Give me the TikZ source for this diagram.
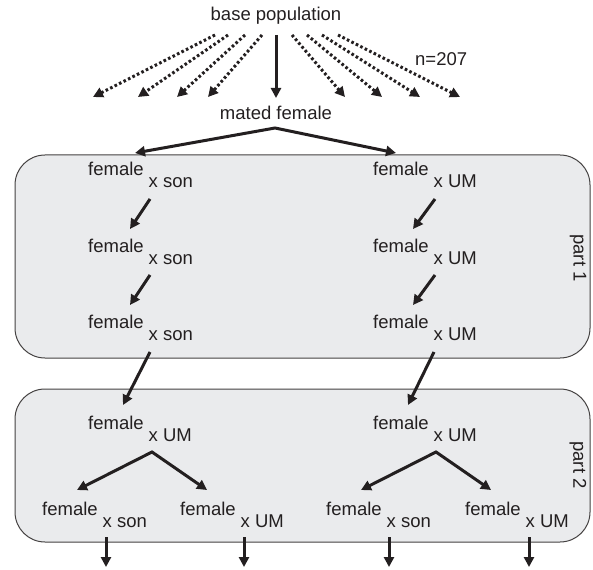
\documentclass[tikz,border=0pt]{standalone}
\usepackage{fontspec}
\setmainfont{Liberation Sans}
\usetikzlibrary{arrows.meta}
\definecolor{boxfill}{RGB}{234,235,237}
\definecolor{ink}{RGB}{35,31,32}
\begin{document}
\begin{tikzpicture}[x=1pt,y=-1pt,
  lbl/.style={inner sep=0pt, anchor=base west, text=ink, font=\fontsize{18.5}{20}\selectfont},
  ctxt/.style={lbl, anchor=base},
  arr/.style={line width=3pt, draw=ink, -{Triangle[length=10pt,width=10pt]}},
  dotarr/.style={arr, dash pattern=on 2.6pt off 2.4pt},
  twoarr/.style={line width=3pt, draw=ink, {Triangle[length=10pt,width=10pt]}-{Triangle[length=10pt,width=10pt]}},
  partbox/.style={draw=ink!85, line width=1pt, fill=boxfill, rounded corners=30pt},
  partlbl/.style={inner sep=0pt, rotate=-90, text=ink, font=\fontsize{18.5}{20}\selectfont},
]
\useasboundingbox (0,0) rectangle (593,569);
\newcommand{\fx}[1]{female\hspace{5pt}\raisebox{-12pt}{x #1}}

% boxes
\draw[partbox] (15,155) rectangle (590,358);
\draw[partbox] (15,389) rectangle (590,542);
\node[partlbl] (p1) at (578,258) {part 1};
\node[partlbl] (p2) at (578,465) {part 2};

% top texts
\node[ctxt] (base) at (276,21) {base population};
\node[lbl] (n) at (415,66) {n=207};
\node[ctxt] (mated) at (276,120) {mated female};

% dotted arrows from base population
\foreach \i/\sx/\ex in {1/215/93, 2/228/138, 3/245/177, 4/262/208, 5/292/345, 6/307/382, 7/322/420, 8/338/460}{
  \coordinate (ds\i) at (\sx,35);
  \coordinate (de\i) at (\ex,97);
  \draw[dotarr] (ds\i) -- (de\i);
}
\coordinate (ms) at (276,35);
\coordinate (me) at (276,98);
\draw[arr] (ms) -- (me);

% chevron from mated female
\coordinate (apex0) at (275,128);
\coordinate (cl0) at (135,153);
\coordinate (cr0) at (396,153);
\draw[twoarr] (cl0) -- (apex0) -- (cr0);

% part 1 labels
\node[lbl] (a1) at (88,176) {\fx{son}};
\node[lbl] (a2) at (88,252) {\fx{son}};
\node[lbl] (a3) at (88,328) {\fx{son}};
\node[lbl] (b1) at (373,176) {\fx{UM}};
\node[lbl] (b2) at (373,252) {\fx{UM}};
\node[lbl] (b3) at (373,328) {\fx{UM}};

% part 1 arrows
\coordinate (as1) at (150,199); \coordinate (ae1) at (130,229);
\coordinate (as2) at (150,275); \coordinate (ae2) at (130,305);
\coordinate (bs1) at (435,199); \coordinate (be1) at (413,229);
\coordinate (bs2) at (435,275); \coordinate (be2) at (413,305);
\draw[arr] (as1) -- (ae1);
\draw[arr] (as2) -- (ae2);
\draw[arr] (bs1) -- (be1);
\draw[arr] (bs2) -- (be2);

% part 1 -> part 2
\coordinate (as3) at (150,352); \coordinate (ae3) at (123,405);
\coordinate (bs3) at (434,352); \coordinate (be3) at (408,405);
\draw[arr] (as3) -- (ae3);
\draw[arr] (bs3) -- (be3);

% part 2 labels
\node[lbl] (c1) at (88,429) {\fx{UM}};
\node[lbl] (d1) at (373,429) {\fx{UM}};
\node[lbl] (c2) at (42,515) {\fx{son}};
\node[lbl] (c3) at (180,515) {\fx{UM}};
\node[lbl] (d2) at (326,515) {\fx{son}};
\node[lbl] (d3) at (465,515) {\fx{UM}};

% part 2 chevrons
\coordinate (capex) at (152,452); \coordinate (cl) at (77,490); \coordinate (cr) at (207,490);
\coordinate (dapex) at (436,452); \coordinate (dl) at (361,490); \coordinate (dr) at (491,490);
\draw[twoarr] (cl) -- (capex) -- (cr);
\draw[twoarr] (dl) -- (dapex) -- (dr);

% bottom arrows
\foreach \i/\x in {1/106, 2/244, 3/389, 4/529}{
  \coordinate (fs\i) at (\x,537);
  \coordinate (fe\i) at (\x,567);
  \draw[arr] (fs\i) -- (fe\i);
}
\end{tikzpicture}
\end{document}
